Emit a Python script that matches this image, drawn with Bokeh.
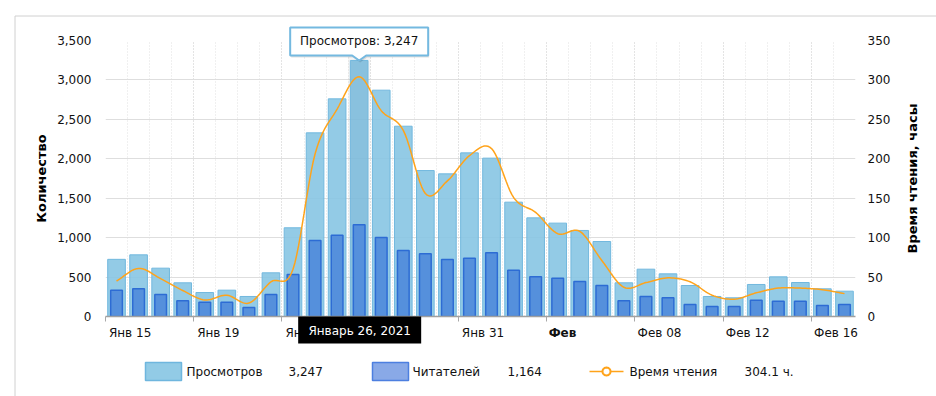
import math
import numpy as np
import pandas as pd
from bokeh.plotting import figure
from bokeh.models import Range1d, LinearAxis, FixedTicker, NumeralTickFormatter, ColumnDataSource
from bokeh.core.properties import value
from bokeh.embed import file_html
from bokeh.resources import INLINE

# ---------------- data ----------------
dates = pd.date_range("2021-01-15", "2021-02-17", freq="D")
views = [725, 782, 613, 427, 304, 334, 254, 554, 1125, 2329, 2760, 3247, 2870, 2413, 1851, 1809, 2075,
         2008, 1450, 1251, 1184, 1091, 951, 427, 600, 541, 393, 254, 237, 406, 503, 431, 351, 321]
readers = [334, 351, 279, 199, 181, 181, 114, 279, 533, 964, 1031, 1164, 1002, 837, 795, 723, 740,
           808, 587, 503, 486, 444, 393, 199, 254, 237, 152, 127, 127, 207, 194, 194, 139, 152]
hours = [45, 61, 48, 33, 21, 27, 17, 44, 60, 206, 263, 304.1, 261, 236, 156, 172, 204,
         213, 151, 132, 105, 108, 71, 37, 43, 49, 44, 27, 22, 30, 36, 36, 34, 29]
tick_days = [0, 4, 8, 12, 16, 20, 24, 28, 32]
tick_labels = ["Янв 15", "Янв 19", "Янв 23", "Янв 27", "Янв 31", "Фев", "Фев 08", "Фев 12", "Фев 16"]
bold_label = "Фев"
left_ticks = [0, 500, 1000, 1500, 2000, 2500, 3000, 3500]
right_ticks = [0, 50, 100, 150, 200, 250, 300, 350]
hover_idx = 11
hover_date = "Январь 26, 2021"
s_views, s_readers, s_hours = "Просмотров", "Читателей", "Время чтения"
left_title, right_title = "Количество", "Время чтения, часы"

n = len(dates)
x = np.arange(n)

# ---------------- geometry helpers (canvas px -> data) ----------------
W, H = 936, 396
FL, FR, FT, FB = 105, 855, 40, 316
PPX = (FR - FL) / n
PPY = (FB - FT) / 3500.0


def X(px):
    return -0.5 + (px - FL) / PPX


def Y(py):
    return (FB - py) / PPY


FONT = value("DejaVu Sans")

p = figure(width=W, height=H, x_range=Range1d(-0.5, n - 0.5), y_range=Range1d(0, 3500),
           output_backend="svg", toolbar_location=None,
           min_border_left=FL, min_border_right=W - FR, min_border_top=FT,
           min_border_bottom=H - FB, background_fill_color="white", border_fill_color="white",
           outline_line_color=None)
p.extra_y_ranges = {"h": Range1d(0, 350)}

# grids
p.ygrid.grid_line_color = "#dedede"
p.ygrid.grid_line_width = 1.2
bounds_all = [i - 0.5 for i in range(n + 1)]
bounds_4 = [d - 0.5 for d in tick_days]
p.xgrid.ticker = FixedTicker(ticks=bounds_4, minor_ticks=bounds_all)
p.xgrid.grid_line_color = "#d8d8d8"
p.xgrid.grid_line_dash = "1 2"
p.xgrid.minor_grid_line_color = "#e0e0e0"
p.xgrid.minor_grid_line_dash = "1 2"

# left axis
ya = p.yaxis[0]
ya.ticker = FixedTicker(ticks=left_ticks)
ya.formatter = NumeralTickFormatter(format="0,0")
ya.axis_label = left_title

ra = LinearAxis(y_range_name="h", ticker=FixedTicker(ticks=right_ticks))
p.add_layout(ra, "right")

for ax, std, lstd in ((ya, 14, 5), (ra, 12, 15)):
    ax.axis_line_color = None
    ax.major_tick_line_color = None
    ax.minor_tick_line_color = None
    ax.major_tick_out = 0
    ax.major_tick_in = 0
    ax.minor_tick_out = 0
    ax.minor_tick_in = 0
    ax.major_label_standoff = std
    ax.axis_label_standoff = lstd
    ax.major_label_text_font = "DejaVu Sans"
    ax.major_label_text_font_size = "12px"
    ax.major_label_text_color = "#111111"
    ax.axis_label_text_font = "DejaVu Sans"
    ax.axis_label_text_font_size = "13px"
    ax.axis_label_text_font_style = "bold"
    ax.axis_label_text_color = "#000000"


# x axis: labels sit to the right of the tick marks
def label_pos(d, lab):
    w = len(lab) * 7.2 + (4 if lab == bold_label else 0)
    return round(d - 0.5 + (3 + w / 2) / PPX, 4)


lpos = [label_pos(d, l) for d, l in zip(tick_days, tick_labels)]
xa = p.xaxis[0]
xa.ticker = FixedTicker(ticks=lpos, minor_ticks=bounds_4)
xa.major_label_overrides = {pp: ("" if l == bold_label else l) for pp, l in zip(lpos, tick_labels)}
xa.major_tick_line_color = None
xa.major_tick_out = 0
xa.major_tick_in = 0
xa.minor_tick_in = 0
xa.minor_tick_out = 5
xa.minor_tick_line_color = "#a8a8a8"
xa.axis_line_color = "#a0a0a0"
xa.axis_line_width = 1.5
xa.major_label_standoff = 4
xa.major_label_text_font = "DejaVu Sans"
xa.major_label_text_font_size = "12px"
xa.major_label_text_color = "#111111"

# hover column band
p.quad(left=[hover_idx - 0.5], right=[hover_idx + 0.5], bottom=[0], top=[3500],
       fill_color="#000000", fill_alpha=0.04, line_color=None)

# bars
light_colors = ["#7dbbdc" if i == hover_idx else "#87c5e3" for i in range(n)]
src = ColumnDataSource(dict(x=x, views=views, readers=readers, lc=light_colors))
p.vbar(x="x", top="views", width=0.8, bottom=0, source=src, fill_color="lc", fill_alpha=0.9,
       line_color="#72b8de", line_width=1)
p.vbar(x="x", top="readers", width=0.53, bottom=0, source=src, fill_color="#5590dc",
       line_color="#2d6cd4", line_width=1.5)


# smooth line (Catmull-Rom through the daily values)
def smooth(xs, ys, k=12):
    xs = np.asarray(xs, float)
    ys = np.asarray(ys, float)
    px = np.concatenate([[2 * xs[0] - xs[1]], xs, [2 * xs[-1] - xs[-2]]])
    py = np.concatenate([[2 * ys[0] - ys[1]], ys, [2 * ys[-1] - ys[-2]]])
    t = np.linspace(0, 1, k, endpoint=False)
    ox, oy = [], []
    for i in range(1, len(px) - 2):
        for arr, out in ((px, ox), (py, oy)):
            p0, p1, p2, p3 = arr[i - 1], arr[i], arr[i + 1], arr[i + 2]
            out.extend(0.5 * (2 * p1 + (-p0 + p2) * t + (2 * p0 - 5 * p1 + 4 * p2 - p3) * t ** 2
                              + (-p0 + 3 * p1 - 3 * p2 + p3) * t ** 3))
    ox.append(xs[-1])
    oy.append(ys[-1])
    return ox, oy


sx, sy = smooth(x, hours)
p.line(sx, sy, y_range_name="h", line_color="#ffa31a", line_width=1.5)

OV = dict(level="overlay")

# right axis title (reads bottom-to-top, centred on the frame)
p.text(x=[X(912)], y=[Y((FT + FB) / 2)], text=[right_title], angle=math.pi / 2, text_font=FONT,
       text_font_size=value("13px"), text_font_style="bold", text_align="center", text_baseline="middle",
       text_color="#000000", **OV)

# bold month label
p.text(x=[lpos[tick_labels.index(bold_label)]], y=[Y(FB + 16)], text=[bold_label], text_font=FONT,
       text_font_size=value("12px"), text_font_style="bold", text_align="center", text_baseline="middle",
       text_color="#111111", **OV)

# top tooltip
ax0, ay0 = hover_idx, views[hover_idx]
apx = FL + (ax0 + 0.5) * PPX
apy = FB - ay0 * PPY
L, R, T, B = apx - 69, apx + 69, apy - 33, apy - 5
poly = [(L, T), (R, T), (R, B), (apx + 7, B), (apx, apy), (apx - 7, B), (L, B)]
p.patch([X(a + 1) for a, b in poly], [Y(b + 2) for a, b in poly], fill_color="#000000", fill_alpha=0.12,
        line_color=None, **OV)
p.patch([X(a) for a, b in poly], [Y(b) for a, b in poly], fill_color="white", line_color="#74b9e0",
        line_width=2, **OV)
p.text(x=[X(apx)], y=[Y((T + B) / 2)], text=[f"{s_views}: {views[hover_idx]:,}"], text_font=FONT,
       text_font_size=value("12px"), text_align="center", text_baseline="middle", text_color="#111111", **OV)

# date tooltip
p.quad(left=[X(apx - 61)], right=[X(apx + 62)], top=[Y(FB)], bottom=[Y(343)], fill_color="black",
       line_color=None, **OV)
p.text(x=[X(apx + 0.5)], y=[Y(330)], text=[hover_date], text_font=FONT, text_font_size=value("12px"),
       text_align="center", text_baseline="middle", text_color="white", **OV)

# legend
LY = 371
p.quad(left=[X(145)], right=[X(181)], top=[Y(362)], bottom=[Y(380)], fill_color="#92cbe6",
       line_color="#6fb6de", line_width=1.5, **OV)
p.quad(left=[X(372)], right=[X(408)], top=[Y(362)], bottom=[Y(380)], fill_color="#89a9e7",
       line_color="#4d7fe0", line_width=1.5, **OV)
p.line([X(589), X(623)], [Y(LY), Y(LY)], line_color="#ffa31a", line_width=1.5, **OV)
ang = np.linspace(0, 2 * np.pi, 25)
p.patch([X(606 + 4 * math.cos(a)) for a in ang], [Y(LY + 4 * math.sin(a)) for a in ang],
        fill_color="white", line_color="#ffa31a", line_width=2, **OV)
leg_x = [186, 288, 412, 507, 629, 744]
leg_t = [s_views, f"{views[hover_idx]:,}", s_readers, f"{readers[hover_idx]:,}", s_hours,
         f"{hours[hover_idx]:.1f} ч."]
p.text(x=[X(v) for v in leg_x], y=[Y(LY)] * len(leg_x), text=leg_t, text_font=FONT,
       text_font_size=value("12px"), text_align="left", text_baseline="middle", text_color="#111111", **OV)

# container border
p.multi_line(xs=[[X(14.5), X(W)], [X(14.5), X(14.5)]], ys=[[Y(15.5), Y(15.5)], [Y(15.5), Y(H)]],
             line_color="#d0d0d0", line_width=1, **OV)

open("out.html", "w").write(file_html(p, INLINE))
